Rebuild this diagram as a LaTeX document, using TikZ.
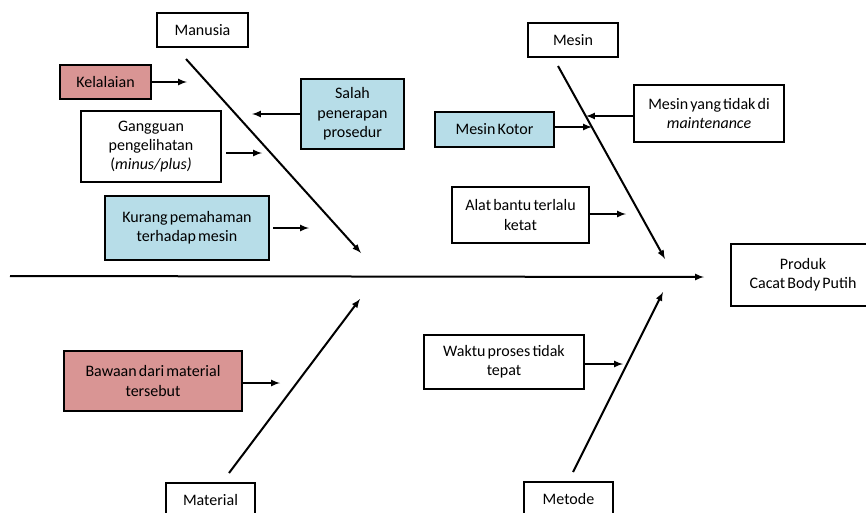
\documentclass[tikz,border=0pt]{standalone}
\usepackage{fontspec}
\setmainfont[WordSpace=0.6]{Carlito}
\definecolor{merah}{HTML}{D99594}
\definecolor{biru}{HTML}{B7DDE8}

\begin{document}
\begin{tikzpicture}[x=1pt,y=-1pt,>=latex]
\tikzstyle{sebab}=[
	rectangle,
	draw,
	line width=2pt,
	align=center,
	inner sep=2pt,
	font=\fontsize{16}{19.3}\selectfont ]
\tikzstyle{sebabmerah}=[sebab, fill=merah]
\tikzstyle{sebabbiru}=[sebab, fill=biru]
\tikzstyle{tulang}=[->, line width=2pt]
\tikzstyle{ranting}=[->, line width=2pt, shorten <=3pt]
\clip (0,0) rectangle (866,512);
\fill[white] (0,0) rectangle (866,512);
\node[sebab, minimum width=91, minimum height=34] (manusia) at (202.5,30) {Manusia};
\node[sebabmerah, minimum width=91, minimum height=34] (kelalaian) at (105.5,82) {Kelalaian};
\node[sebabbiru, minimum width=103, minimum height=70] (salah) at (352.5,114) {Salah\\penerapan\\prosedur};
\node[sebab, minimum width=140, minimum height=71] (gangguan) at (151,146.5) {Gangguan\\pengelihatan\\(\textit{minus/plus)}};
\node[sebabbiru, minimum width=164, minimum height=64] (kurang) at (187,228) {Kurang pemahaman\\terhadap mesin};
\node[sebab, minimum width=90, minimum height=34] (mesin) at (573,40) {Mesin};
\node[sebab, minimum width=150, minimum height=57] (rawat) at (709,113.5) {Mesin yang tidak di\\\textit{maintenance}};
\node[sebabbiru, minimum width=119, minimum height=35] (kotor) at (494.5,129.5) {Mesin Kotor};
\node[sebab, minimum width=137, minimum height=56] (alat) at (520.5,215) {Alat bantu terlalu\\ketat};
\node[sebab, minimum width=144, minimum height=62] (produk) at (803,275) {Produk\\Cacat Body Putih};
\node[sebabmerah, minimum width=178, minimum height=60] (bawaan) at (153,381) {Bawaan dari material\\tersebut};
\node[sebab, minimum width=160, minimum height=54] (waktu) at (504,362) {Waktu proses tidak\\tepat};
\node[sebab, minimum width=89, minimum height=34] (material) at (210.5,500) {Material};
\node[sebab, minimum width=89, minimum height=34] (metode) at (568.5,499) {Metode};

\coordinate (ekor) at (10,276);
\coordinate (kepala) at (704,277);
\coordinate (m1) at (186,59);
\coordinate (m2) at (361,253);
\coordinate (s1) at (558,66);
\coordinate (s2) at (665,259);
\coordinate (b1) at (229,473);
\coordinate (b2) at (360,299);
\coordinate (t1) at (573,472);
\coordinate (t2) at (663,292);
\coordinate (r1) at (187,82);
\coordinate (r2) at (252,114);
\coordinate (r3) at (262,153);
\coordinate (r4) at (309,228);
\coordinate (r5) at (586,116);
\coordinate (r6) at (592,127);
\coordinate (r7) at (626,214);
\coordinate (r8) at (280,383);
\coordinate (r9) at (623,364);

\draw[tulang] (ekor) -- (kepala);
\draw[tulang] (m1) -- (m2);
\draw[tulang] (s1) -- (s2);
\draw[tulang] (b1) -- (b2);
\draw[tulang] (t1) -- (t2);
\draw[ranting, shorten <=0pt] (kelalaian.east |- r1) -- (r1);
\draw[ranting, shorten <=0pt] (salah.west |- r2) -- (r2);
\draw[ranting, shorten <=4pt] (gangguan.east |- r3) -- (r3);
\draw[ranting] (kurang.east |- r4) -- (r4);
\draw[ranting, shorten <=0pt] (rawat.west |- r5) -- (r5);
\draw[ranting, shorten <=0pt] (kotor.east |- r6) -- (r6);
\draw[ranting, shorten <=0pt] (alat.east |- r7) -- (r7);
\draw[ranting, shorten <=0pt] (bawaan.east |- r8) -- (r8);
\draw[ranting, shorten <=0pt] (waktu.east |- r9) -- (r9);
\end{tikzpicture}
\end{document}
